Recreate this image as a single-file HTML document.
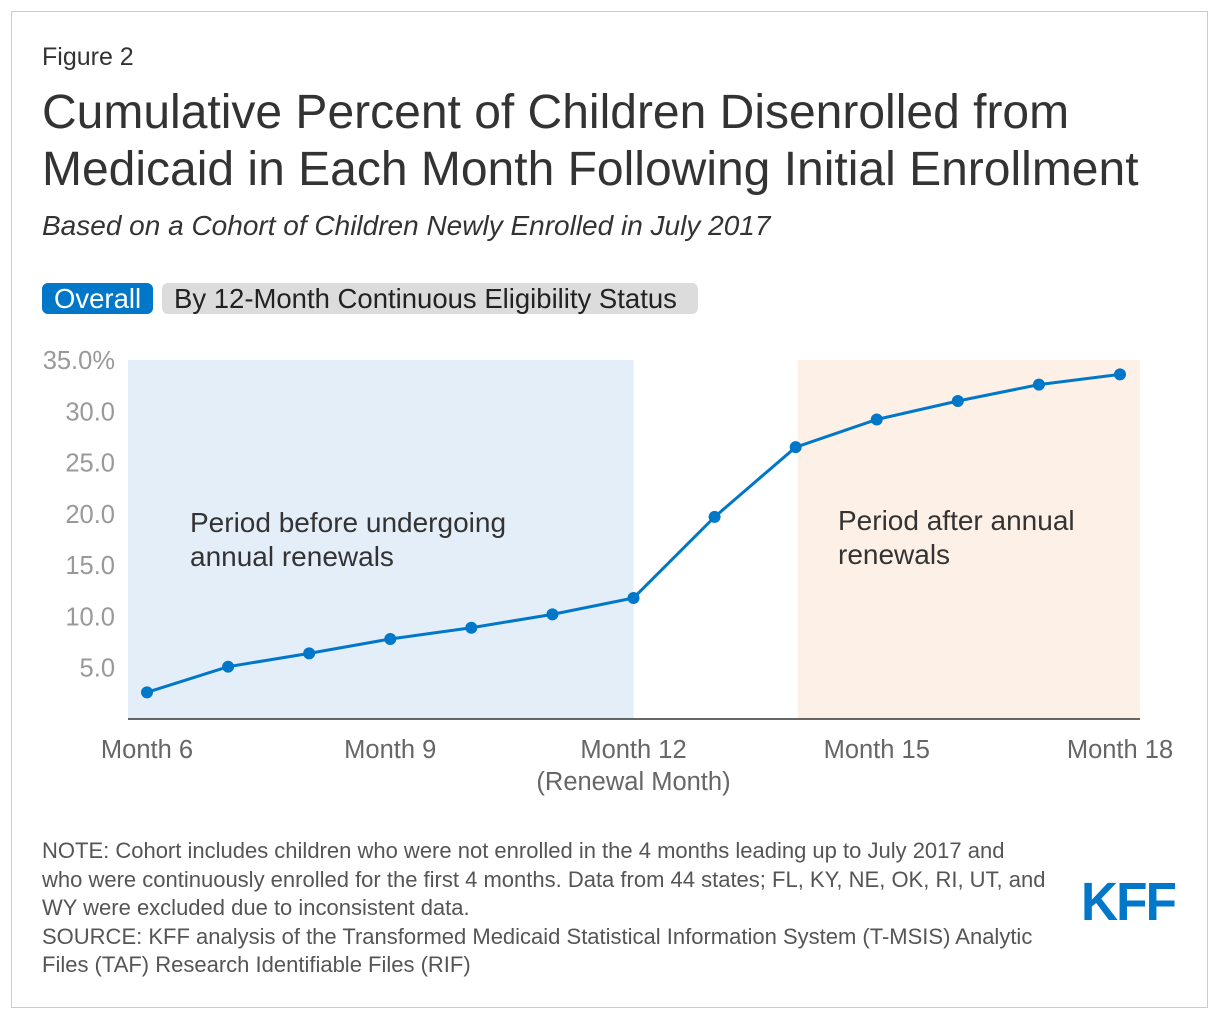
<!DOCTYPE html>
<html><head><meta charset="utf-8"><style>
body{margin:0;width:1220px;height:1020px;background:#fff;font-family:"Liberation Sans",sans-serif;position:relative;overflow:hidden}
.frame{position:absolute;left:11px;top:11px;width:1197px;height:997px;border:1px solid #ccc;box-sizing:border-box}
.abs{position:absolute;margin:0;color:#333}
.btn{position:absolute;top:283px;height:31px;border-radius:6px;font-size:27.5px;line-height:31px;padding:0 12px;box-sizing:border-box;white-space:nowrap}
</style></head><body>
<div class="frame"></div>
<div class="abs" style="left:42px;top:43px;font-size:25px">Figure 2</div>
<div class="abs" style="left:42px;top:84px;font-size:48px;line-height:57px;color:#333;white-space:nowrap">Cumulative Percent of Children Disenrolled from<br>Medicaid in Each Month Following Initial Enrollment</div>
<div class="abs" style="left:42px;top:210px;font-size:28px;font-style:italic;white-space:nowrap">Based on a Cohort of Children Newly Enrolled in July 2017</div>
<div class="btn" style="left:42px;width:111px;background:#0077c8;color:#fff">Overall</div>
<div class="btn" style="left:162px;width:536px;background:#dcdcdc;color:#222">By 12-Month Continuous Eligibility Status</div>
<svg id="chart" width="1220" height="1020" style="position:absolute;left:0;top:0"></svg>
<div class="abs" style="left:42px;top:837px;font-size:22px;line-height:28.5px;color:#555;white-space:nowrap">NOTE: Cohort includes children who were not enrolled in the 4 months leading up to July 2017 and<br>who were continuously enrolled for the first 4 months. Data from 44 states; FL, KY, NE, OK, RI, UT, and<br>WY were excluded due to inconsistent data.<br>SOURCE: KFF analysis of the Transformed Medicaid Statistical Information System (T-MSIS) Analytic<br>Files (TAF) Research Identifiable Files (RIF)</div>
<div class="abs" style="left:1081px;top:871px;font-size:54px;font-weight:bold;color:#0077c8;letter-spacing:-2px;transform:scaleX(0.95);transform-origin:left">KFF</div>
<script>
const months=[6,7,8,9,10,11,12,13,14,15,16,17,18];
const values=[2.6,5.1,6.4,7.8,8.9,10.2,11.8,19.7,26.5,29.2,31.0,32.6,33.6];
const yTicks=[5,10,15,20,25,30,35];
const yTickLabels=["5.0","10.0","15.0","20.0","25.0","30.0","35.0%"];
const xTicks=[6,9,12,15,18];
const xTickLabels=["Month 6","Month 9","Month 12","Month 15","Month 18"];
const NS="http://www.w3.org/2000/svg";
const svg=document.getElementById('chart');
const x=m=>147+(m-6)*(1120-147)/12;
const y=v=>719-v*(719-360)/35;
function mk(t,a){const e=document.createElementNS(NS,t);for(const k in a)e.setAttribute(k,a[k]);svg.appendChild(e);return e;}
let e;
e=mk('rect',{x:128,y:360,width:x(12)-128,height:359,fill:'#e3eef8'});


e=mk('rect',{x:x(14)+2,y:360,width:1140-x(14)-2,height:359,fill:'#fdf0e6'});


e=mk('line',{x1:128,x2:1140,y1:719,y2:719,stroke:'#333','stroke-width':1.5});


yTicks.forEach((v,i)=>{const t=mk('text',{x:115,y:y(v)+9,'text-anchor':'end','font-size':25.5,fill:'#999','font-family':'Liberation Sans'});t.textContent=yTickLabels[i];

});
xTicks.forEach((m,i)=>{const t=mk('text',{x:x(m),y:758,'text-anchor':'middle','font-size':25.5,fill:'#666','font-family':'Liberation Sans'});t.textContent=xTickLabels[i];

});
e=mk('text',{x:x(12),y:790,'text-anchor':'middle','font-size':25.5,fill:'#666','font-family':'Liberation Sans'});e.textContent='(Renewal Month)';


[['Period before undergoing',190,532],['annual renewals',190,566],['Period after annual',838,530],['renewals',838,564]].forEach(a=>{const t=mk('text',{x:a[1],y:a[2],'font-size':28,fill:'#333','font-family':'Liberation Sans'});t.textContent=a[0];

});
e=mk('polyline',{points:months.map((m,i)=>x(m)+','+y(values[i])).join(' '),fill:'none',stroke:'#0077c8','stroke-width':3});


months.forEach((m,i)=>{const c=mk('circle',{cx:x(m),cy:y(values[i]),r:6,fill:'#0077c8'});

});
</script>
</body></html>
